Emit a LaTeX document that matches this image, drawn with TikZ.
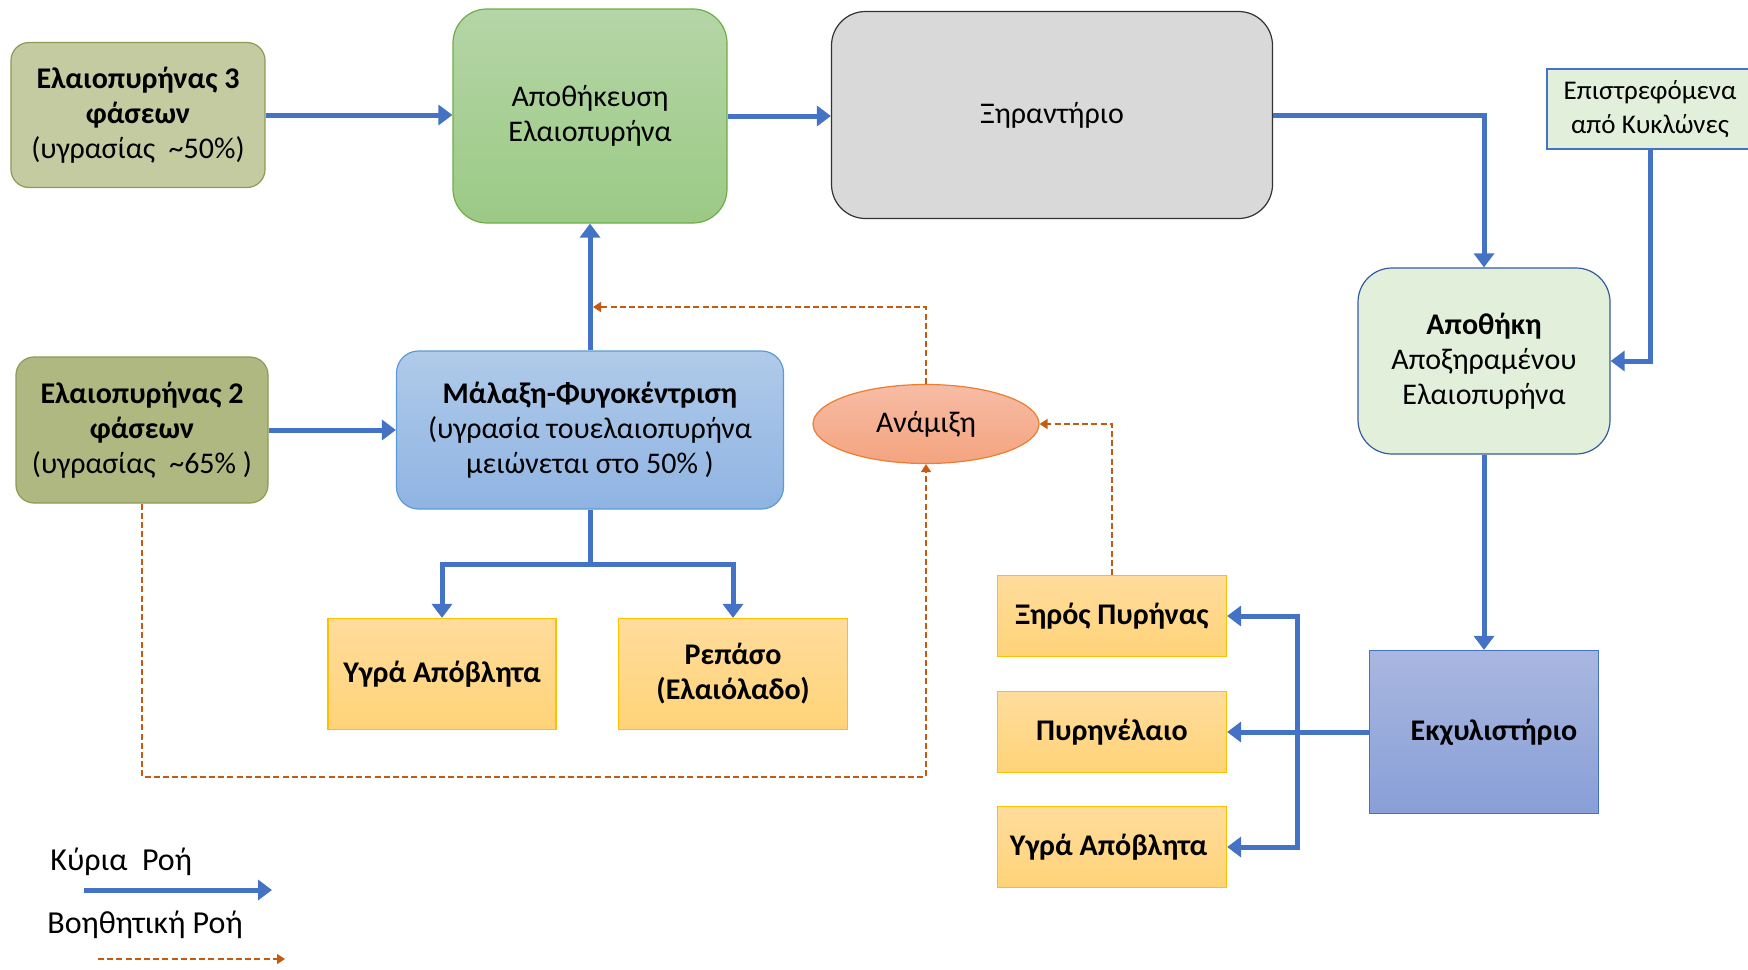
\documentclass[tikz,border=0pt]{standalone}
\usepackage{fontspec}
\setmainfont{Carlito}
\usepackage{tikz}
\usetikzlibrary{arrows.meta, shapes.geometric}
\usepackage{xcolor}
\definecolor{my_blue}{HTML}{4472C4}
\definecolor{my_orange}{HTML}{C55A11}
\colorlet{main_line}{my_blue}
\colorlet{aux_line}{my_orange}
\definecolor{olive_light}{HTML}{C4CBA0}
\definecolor{olive_dark}{HTML}{AEB880}
\definecolor{olive_edge}{HTML}{8E9A55}
\definecolor{green_top}{HTML}{B5D5A6}
\definecolor{green_bottom}{HTML}{9BCA85}
\definecolor{green_edge}{HTML}{70AD47}
\definecolor{pale_green}{HTML}{E2EFDA}
\definecolor{grey_fill}{HTML}{D9D9D9}
\definecolor{sky_top}{HTML}{B0CAE9}
\definecolor{sky_bottom}{HTML}{8FB4E3}
\definecolor{sky_edge}{HTML}{5B9BD5}
\definecolor{salmon_top}{HTML}{F7BCA5}
\definecolor{salmon_bottom}{HTML}{F4A47F}
\definecolor{salmon_edge}{HTML}{ED7D31}
\definecolor{gold_top}{HTML}{FFDC9C}
\definecolor{gold_bottom}{HTML}{FFD378}
\definecolor{gold_edge}{HTML}{FFC000}
\definecolor{slate_top}{HTML}{A9B7E0}
\definecolor{slate_bottom}{HTML}{889FD7}

\begin{document}
\begin{tikzpicture}[
    x=0.5pt, y=-0.5pt,
    >={Triangle[width=10pt, length=7pt]},
    box/.style={draw, align=center, inner sep=2pt, line width=0.6pt,
      font=\fontsize{15}{17.5}\selectfont},
    pomace-box/.style={box, rounded corners=9pt, draw=olive_edge},
    store-box/.style={box, rounded corners=17pt},
    product/.style={box, draw=gold_edge, top color=gold_top, bottom color=gold_bottom,
      font=\fontsize{15}{17.5}\selectfont\bfseries},
    main-flow/.style={color=main_line, line width=2.5pt},
    aux-flow/.style={color=aux_line, line width=0.8pt, dash pattern=on 3pt off 1.6pt,
      -{Triangle[width=5pt, length=4pt]}},
    legend-label/.style={anchor=west, inner sep=0pt, font=\fontsize{16}{19}\selectfont},
  ]
  \useasboundingbox (0,0) rectangle (1748,969);

  %%%%%%%%%% Upper row %%%%%%%%%%
  \node[pomace-box, fill=olive_light, minimum width=127pt, minimum height=72.5pt]
    (pomace-three) at (138,115)
    {\textbf{Ελαιοπυρήνας 3}\\\textbf{φάσεων}\\(υγρασίας \ \textasciitilde50\%)};
  \node[store-box, draw=green_edge, top color=green_top, bottom color=green_bottom,
    minimum width=137pt, minimum height=107pt]
    (storage) at (590,116) {Αποθήκευση\\Ελαιοπυρήνα};
  \node[store-box, draw=black!80, fill=grey_fill, minimum width=220.5pt, minimum height=103.5pt]
    (dryer) at (1052,115) {Ξηραντήριο};
  \node[box, draw=main_line, fill=pale_green, minimum width=103pt, minimum height=40pt,
    font=\fontsize{13.5}{17}\selectfont]
    (cyclones) at (1650,109) {Επιστρεφόμενα\\από Κυκλώνες};
  \node[store-box, draw=my_blue!80!black, fill=pale_green, minimum width=126pt, minimum height=93pt]
    (dried-storage) at (1484,361) {\textbf{Αποθήκη}\\Αποξηραμένου\\Ελαιοπυρήνα};

  %%%%%%%%%% Middle row %%%%%%%%%%
  \node[pomace-box, fill=olive_dark, minimum width=126pt, minimum height=73pt]
    (pomace-two) at (142,430)
    {\textbf{Ελαιοπυρήνας 2}\\\textbf{φάσεων}\\(υγρασίας \ \textasciitilde65\% )};
  \node[box, rounded corners=11pt, draw=sky_edge, top color=sky_top, bottom color=sky_bottom,
    minimum width=193.5pt, minimum height=79pt]
    (malaxation) at (590,430)
    {\textbf{Μάλαξη-Φυγοκέντριση}\\(υγρασία τουελαιοπυρήνα\\μειώνεται στο 50\% )};
  \node[box, ellipse, draw=salmon_edge, top color=salmon_top, bottom color=salmon_bottom,
    minimum width=113pt, minimum height=39.5pt]
    (mixing) at (926,424) {Ανάμιξη};
  \node[box, draw=my_blue, top color=slate_top, bottom color=slate_bottom,
    minimum width=114.5pt, minimum height=81.5pt,
    font=\fontsize{15}{17.5}\selectfont\bfseries]
    (extractor) at (1484,732) {\hspace*{10pt}Εκχυλιστήριο};

  %%%%%%%%%% Products %%%%%%%%%%
  \node[product, minimum width=114pt, minimum height=55.5pt] (liquid-waste) at (442,674) {Υγρά Απόβλητα};
  \node[product, minimum width=114.5pt, minimum height=55.5pt] (repaso) at (733,674) {Ρεπάσο\\(Ελαιόλαδο)};
  \foreach \boxname/\boxpos/\boxtext in {
    {dry-kernel}/{(1112,616)}/{Ξηρός Πυρήνας},
    {pomace-oil}/{(1112,732)}/{Πυρηνέλαιο},
    {liquid-waste-b}/{(1112,847)}/{Υγρά Απόβλητα}
  } {
    \node[product, minimum width=114.5pt, minimum height=40.5pt] (\boxname) at \boxpos {\boxtext};
  }

  %%%%%%%%%% Main flow %%%%%%%%%%
  \coordinate (split-down) at (590,564);
  \coordinate (split-right) at (1297,732);
  \draw[main-flow, ->] (pomace-three.east) -- (storage.west |- pomace-three.east);
  \draw[main-flow, ->] (storage.east) -- (dryer.west |- storage.east);
  \draw[main-flow, ->] (dryer.east) -| (dried-storage.north);
  \draw[main-flow, ->] (cyclones.south) |- (dried-storage.east);
  \draw[main-flow, ->] (dried-storage.south) -- (extractor.north);
  \draw[main-flow, ->] (pomace-two.east) -- (malaxation.west |- pomace-two.east);
  \draw[main-flow, ->] (malaxation.north) -- (storage.south);
  \draw[main-flow] (malaxation.south) -- (split-down);
  \draw[main-flow, ->] (split-down) -| (liquid-waste.north);
  \draw[main-flow, ->] (split-down) -| (repaso.north);
  \draw[main-flow, ->] (extractor.west) -- (pomace-oil.east);
  \draw[main-flow, ->] (split-right) |- (dry-kernel.east);
  \draw[main-flow, ->] (split-right) |- (liquid-waste-b.east);

  %%%%%%%%%% Auxiliary flow %%%%%%%%%%
  \coordinate (recycle-in) at (593,307);
  \coordinate (loop-corner) at (926,777);
  \draw[aux-flow] (mixing.north) |- (recycle-in);
  \draw[aux-flow] (dry-kernel.north) |- (mixing.east);
  \draw[aux-flow] (pomace-two.south) |- (loop-corner) -- (mixing.south);

  %%%%%%%%%% Legend %%%%%%%%%%
  \node[legend-label] (legend-main) at (50,862) {Κύρια \ Ροή};
  \node[legend-label] (legend-aux) at (47,925) {Βοηθητική Ροή};
  \coordinate (legend-main-start) at (84,890);
  \coordinate (legend-main-end) at (272,890);
  \coordinate (legend-aux-start) at (98,959);
  \coordinate (legend-aux-end) at (285,959);
  \draw[main-flow, ->] (legend-main-start) -- (legend-main-end);
  \draw[aux-flow] (legend-aux-start) -- (legend-aux-end);

\end{tikzpicture}
\end{document}
